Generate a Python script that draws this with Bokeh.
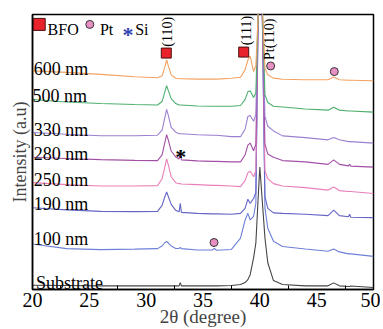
import math
from bokeh.plotting import figure
from bokeh.models import Range1d, FixedTicker
from bokeh.core.properties import value
from bokeh.embed import file_html
from bokeh.resources import INLINE

# 2-theta sample positions (degree)
two_theta = [20, 23, 26, 29, 31.0, 31.4, 31.65, 31.8, 31.95, 32.2, 32.6, 32.9, 33.0, 33.1,
             34.5, 35.8, 36.0, 36.2, 37.5, 38.3, 38.7, 38.95, 39.15, 39.45, 39.65, 39.85,
             40.0, 40.2, 40.45, 40.7, 41.2, 42.0, 44.0, 46.0, 46.5, 47.0, 47.8, 47.9, 48.0, 50]

# intensities (a.u., offset-stacked as in the figure)
i_600 = [221, 219.5, 217.5, 215, 214, 216, 225, 232, 226, 217, 213.5, 213, 213, 213,
         212.7, 212.7, 212.7, 212.7, 213.5, 214.5, 222, 232, 236, 220.3, 226, 278,
         2300, 292, 224, 217, 213.7, 212.5, 212, 212, 214.7, 212, 211.5, 211.5, 211.5, 211]
i_500 = [192, 189.5, 188, 187, 186.5, 190, 200, 206, 201, 193, 188, 186.5, 186.5, 186.5,
         185.5, 185.3, 185.3, 185.3, 185.3, 186, 192, 200, 201, 194, 199, 278,
         2300, 292, 197, 189, 185.3, 184.5, 182.5, 181.3, 184.3, 181.3, 180.5, 180.5, 180.5, 179.3]
i_330 = [158.7, 157, 155.5, 155.5, 156, 161, 174, 182, 176, 164, 159, 157.5, 157.5, 157.5,
         156.5, 156, 156, 156, 154.5, 154.5, 162, 175, 176, 170, 177, 278,
         2300, 292, 175, 165, 160.3, 155.3, 153.5, 151.3, 153.7, 151.3, 149.5, 149.5, 149.5, 148]
i_280 = [133.7, 132.5, 131.3, 130.5, 130.3, 136, 149, 156.5, 151, 140, 134, 132, 141, 131,
         130, 129.5, 129.5, 129.5, 129, 129, 136, 146, 148, 140.3, 147, 278,
         2300, 292, 147, 137, 133.7, 130.3, 129, 126.5, 131, 126.5, 125, 126.5, 124.7, 123.7]
i_250 = [108, 106, 104.7, 104.7, 105, 112, 124, 132, 126, 114, 108, 107, 107, 106.7,
         106, 105.3, 105.3, 105.3, 104.7, 104, 110, 118, 119.5, 114, 120, 278,
         2300, 292, 120, 112, 107, 104.7, 103, 100.5, 103.7, 100, 99, 99, 99, 97]
i_190 = [82.7, 80.5, 79, 78.7, 79, 85, 94, 98.5, 94, 86, 80, 78.5, 87, 78,
         77, 76.5, 76.5, 76.5, 76, 77, 82, 91.3, 87, 92, 98, 278,
         2300, 292, 94, 82, 77.5, 77, 76, 74.7, 80.3, 74.7, 73.5, 76, 73, 72.7]
i_100 = [46, 41.3, 40.3, 40.8, 41.3, 44, 47.5, 48.5, 47, 44, 41.5, 41.5, 42.5, 41.3,
         40, 40, 41.5, 39.7, 40.5, 52, 70, 77, 70.3, 74, 87, 278,
         2300, 292, 82, 62, 48.7, 43.5, 41, 38.7, 41, 38, 36, 36, 36, 33.5]
i_sub = [4.3, 4, 3.7, 3.7, 3.7, 3.7, 3.7, 3.7, 3.7, 3.7, 3.7, 3.7, 7, 3.7,
         3.7, 3.7, 3.7, 3.7, 4, 5, 7, 10, 15, 32, 47, 92,
         123.7, 92, 52, 27, 9, 5, 3.7, 3.7, 6.7, 3.7, 3, 3, 3.5, 2]

series = [i_sub, i_100, i_190, i_250, i_280, i_330, i_500, i_600]
series_labels = ["Substrate", "100 nm", "190 nm", "250 nm", "280 nm", "330 nm", "500 nm", "600 nm"]
series_colors = ["#454545", "#6E80D8", "#6565C6", "#EA7FB9", "#A24FA6", "#9B80D0", "#4DAE6D", "#F4A262"]
label_x = [20.3, 20.1, 20.1, 20.1, 20.1, 20.1, 20.0, 20.1]
label_y = [7, 51.3, 86, 111, 137, 161.3, 195.3, 223]

# phase markers
bfo_x = [31.77, 38.58]
bfo_y = [239, 240]
pt_x = [40.95, 46.55, 35.97]
pt_y = [226, 220.3, 47.5]
si_x = [33.05]
si_y = [145.5]
hkl_text = ["(110)", "(111)", "Pt(110)"]
hkl_x = [31.86, 38.87, 40.88]
hkl_y = [245.5, 247, 232]

# legend
leg_sq = (20.59, 268)
leg_pt = (25.04, 268)
leg_si = (28.41, 268.5)
leg_text = ["BFO", "Pt", "Si"]
leg_text_x = [21.33, 25.93, 29.03]
leg_text_y = [262.5, 262.5, 262.5]

FONT = "'Liberation Serif'"
AX_FONT = "Times New Roman"

p = figure(width=380, height=329, x_range=Range1d(20, 50), y_range=Range1d(0, 278),
           output_backend="svg", toolbar_location=None,
           min_border_left=32, min_border_right=7, min_border_top=14, min_border_bottom=37)
p.background_fill_color = "white"
p.border_fill_color = "white"
p.grid.visible = False
p.outline_line_color = "black"
p.outline_line_width = 1.5

xa = p.xaxis[0]
xa.ticker = FixedTicker(ticks=[20, 25, 30, 35, 40, 45, 50],
                        minor_ticks=[22.5, 27.5, 32.5, 37.5, 42.5, 47.5])
xa.major_tick_in = 0
xa.major_tick_out = 0
xa.minor_tick_in = 4
xa.minor_tick_out = 0
xa.axis_line_width = 1.5
xa.major_label_text_font = AX_FONT
xa.major_label_text_font_size = "20px"
xa.major_label_text_color = "black"
xa.major_label_standoff = 3
xa.axis_label = "2θ (degree)"
xa.axis_label_text_font = AX_FONT
xa.axis_label_text_font_size = "19px"
xa.axis_label_text_font_style = "normal"
xa.axis_label_standoff = -4

ya = p.yaxis[0]
ya.ticker = FixedTicker(ticks=[])
ya.major_tick_in = 0
ya.major_tick_out = 0
ya.minor_tick_in = 0
ya.minor_tick_out = 0
ya.major_label_text_font_size = "0px"
ya.major_label_standoff = 0
ya.axis_line_width = 1.5
ya.axis_label = "Intensity (a.u)"
ya.axis_label_text_font = AX_FONT
ya.axis_label_text_font_size = "18px"
ya.axis_label_text_font_style = "normal"
ya.axis_label_standoff = 3

for ys, c in zip(series, series_colors):
    p.line(two_theta, ys, line_color=c, line_width=1.1)

p.text(label_x, label_y, text=series_labels, text_font=value(FONT), text_font_size="18px",
       text_color="black", text_align="left", text_baseline="alphabetic")

# markers on peaks
p.scatter(bfo_x, bfo_y, marker="square", size=10, fill_color="#E8232B", line_color="#4a1010", line_width=1)
p.scatter(pt_x, pt_y, marker="circle", size=8, fill_color="#E890C4", line_color="#333333", line_width=1)
p.text(si_x, si_y, text=["*"], text_font=value(FONT), text_font_size="22px", text_font_style="bold",
       text_color="black", text_align="center", text_baseline="alphabetic", y_offset=11)
p.text(hkl_x, hkl_y, text=hkl_text, angle=math.pi / 2, text_font=value(FONT), text_font_size="14px",
       text_color="black", text_align="left", text_baseline="middle")

# legend
p.scatter([leg_sq[0]], [leg_sq[1]], marker="square", size=12, fill_color="#E8232B", line_color="#4a1010", line_width=1)
p.scatter([leg_pt[0]], [leg_pt[1]], marker="circle", size=8, fill_color="#E890C4", line_color="#333333", line_width=1)
p.text([leg_si[0]], [leg_si[1]], text=["*"], text_font=value(FONT), text_font_size="22px", text_font_style="bold",
       text_color="#2E44B0", text_align="center", text_baseline="alphabetic", y_offset=11)
p.text(leg_text_x, leg_text_y, text=leg_text, text_font=value(FONT), text_font_size="16px",
       text_color="black", text_align="left", text_baseline="alphabetic")

open("out.html", "w").write(file_html(p, INLINE))
